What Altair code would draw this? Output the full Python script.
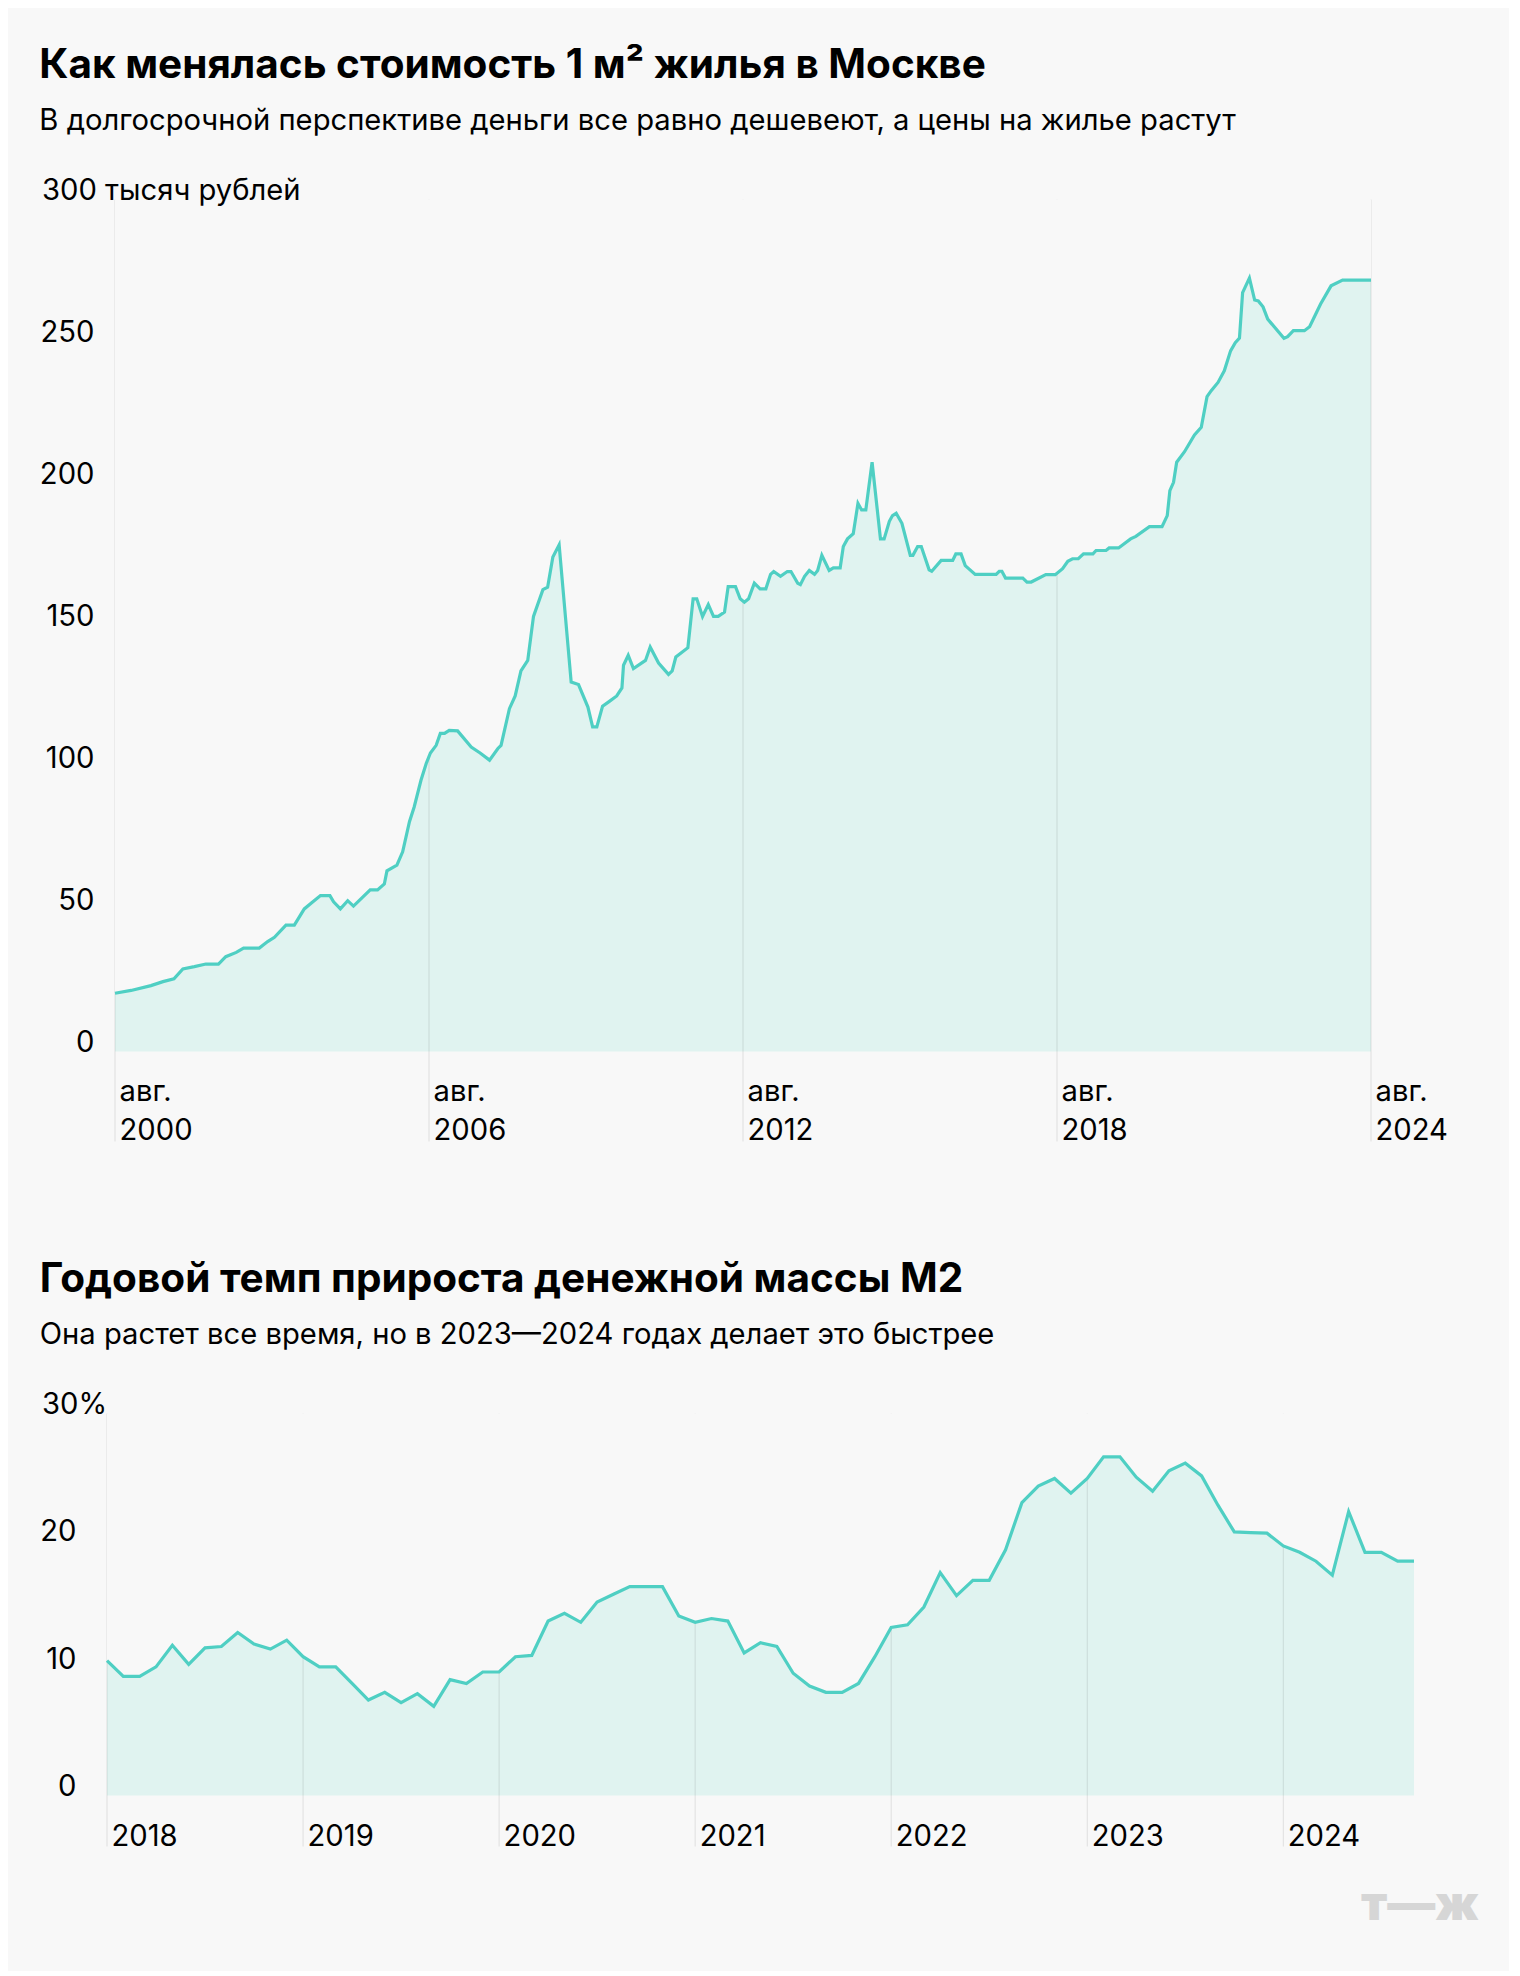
import altair as alt
import pandas as pd

BG = "#f8f8f8"
LINE = "#4fcfc3"
FILL = "#e0f3f0"
FONT = "Inter"
FS = 29.2

# ---- Chart 1: price of 1 m2 in Moscow, thousand rubles (decimal years) ----
price_year = [
    2000.5834, 2000.89, 2001.27, 2001.50, 2001.71, 2001.88, 2002.10, 2002.32, 2002.56, 2002.70,
    2002.90, 2003.04, 2003.34, 2003.50, 2003.63, 2003.85, 2004.01, 2004.20, 2004.33, 2004.51,
    2004.69, 2004.76, 2004.89, 2005.03, 2005.14, 2005.46, 2005.60, 2005.73, 2005.78, 2005.97,
    2006.08, 2006.21, 2006.30, 2006.43, 2006.53, 2006.61, 2006.72, 2006.80, 2006.88, 2006.97,
    2007.13, 2007.39, 2007.56, 2007.74, 2007.90, 2007.96, 2008.12, 2008.23, 2008.34, 2008.47,
    2008.58, 2008.76, 2008.85, 2008.95, 2009.07, 2009.30, 2009.44, 2009.62, 2009.71, 2009.79,
    2009.90, 2010.03, 2010.17, 2010.27, 2010.30, 2010.39, 2010.49, 2010.72, 2010.81, 2010.97,
    2011.16, 2011.23, 2011.30, 2011.53, 2011.63, 2011.70, 2011.81, 2011.92, 2012.02, 2012.11,
    2012.23, 2012.30, 2012.44, 2012.53, 2012.61, 2012.69, 2012.80, 2012.91, 2013.02, 2013.11,
    2013.17, 2013.30, 2013.43, 2013.50, 2013.63, 2013.68, 2013.76, 2013.85, 2013.95, 2014.01,
    2014.09, 2014.23, 2014.31, 2014.44, 2014.50, 2014.58, 2014.69, 2014.78, 2014.85, 2014.93,
    2015.05, 2015.21, 2015.28, 2015.38, 2015.44, 2015.51, 2015.62, 2015.78, 2015.83, 2015.92,
    2015.99, 2016.14, 2016.19, 2016.37, 2016.59, 2016.65, 2016.75, 2016.83, 2017.02, 2017.42,
    2017.48, 2017.53, 2017.60, 2017.93, 2018.01, 2018.09, 2018.37, 2018.55, 2018.69, 2018.79,
    2018.88, 2018.99, 2019.09, 2019.27, 2019.33, 2019.52, 2019.58, 2019.76, 2019.99, 2020.09,
    2020.35, 2020.59, 2020.69, 2020.74, 2020.81, 2020.87, 2021.02, 2021.21, 2021.34, 2021.45,
    2021.53, 2021.66, 2021.78, 2021.90, 2021.99, 2022.07, 2022.13, 2022.26, 2022.36, 2022.43,
    2022.52, 2022.61, 2022.92, 2022.99, 2023.10, 2023.31, 2023.41, 2023.62, 2023.82, 2024.04,
    2024.5833,
]
price_value = [
    20.5, 21.5, 23.2, 24.6, 25.6, 29.1, 29.9, 30.8, 30.8, 33.4,
    34.9, 36.4, 36.4, 38.7, 40.2, 44.5, 44.5, 50.2, 52.2, 54.9,
    54.9, 52.7, 50.2, 53.1, 51.2, 56.9, 56.9, 59.0, 63.6, 65.6,
    70.3, 80.9, 86.1, 95.5, 101.4, 105.1, 107.8, 112.0, 112.0, 113.1,
    112.9, 107.2, 105.1, 102.6, 106.7, 107.8, 120.7, 125.2, 134.0, 137.7,
    153.2, 162.6, 163.5, 174.1, 178.4, 130.1, 129.2, 121.3, 114.3, 114.3,
    121.6, 123.3, 125.2, 128.0, 136.0, 139.5, 134.8, 137.7, 142.4, 136.8,
    132.8, 134.0, 138.9, 142.2, 159.4, 159.4, 153.2, 157.4, 153.2, 153.2,
    154.7, 163.7, 163.7, 159.4, 158.2, 159.4, 164.9, 162.9, 162.9, 168.0,
    169.0, 167.3, 169.0, 169.0, 164.9, 164.4, 167.3, 169.4, 168.0, 169.4,
    174.7, 169.4, 170.3, 170.3, 177.8, 180.5, 182.3, 193.0, 190.7, 190.7,
    207.5, 180.5, 180.5, 186.7, 188.7, 189.5, 186.0, 174.7, 174.7, 177.8,
    177.8, 169.6, 169.1, 172.9, 172.9, 175.2, 175.2, 171.1, 168.0, 168.0,
    169.1, 169.1, 166.7, 166.7, 165.3, 165.3, 167.9, 167.9, 170.0, 172.6,
    173.5, 173.5, 175.2, 175.2, 176.4, 176.4, 177.3, 177.3, 180.5, 181.4,
    184.8, 184.8, 188.7, 197.5, 200.4, 207.5, 211.2, 217.1, 219.8, 230.6,
    232.7, 235.6, 239.7, 246.7, 249.6, 251.2, 267.2, 272.3, 264.6, 264.3,
    262.2, 257.9, 251.1, 251.7, 253.8, 253.8, 255.2, 263.2, 269.6, 271.6,
    271.6,
]
price_ticks = [2000 + 7 / 12, 2006 + 7 / 12, 2012 + 7 / 12, 2018 + 7 / 12, 2024 + 7 / 12]
price_yticks = [0, 50, 100, 150, 200, 250]
price_top_label = "300 тысяч рублей"

# ---- Chart 2: M2 annual growth, %, monthly from Jan 2018 ----
m2_value = [
    10.6, 9.35, 9.35, 10.1, 11.8, 10.3, 11.6, 11.7, 12.8, 11.9,
    11.5, 12.2, 10.9, 10.1, 10.1, 8.8, 7.5, 8.1, 7.3, 8.0,
    7.0, 9.1, 8.8, 9.7, 9.7, 10.9, 11.0, 13.7, 14.3, 13.6,
    15.2, 15.8, 16.4, 16.4, 16.4, 14.1, 13.6, 13.9, 13.7, 11.2,
    12.0, 11.7, 9.6, 8.6, 8.1, 8.1, 8.8, 10.9, 13.2, 13.4,
    14.8, 17.5, 15.7, 16.9, 16.9, 19.3, 23.0, 24.3, 24.9, 23.75,
    24.9, 26.6, 26.6, 25.0, 23.9, 25.5, 26.1, 25.1, 22.8, 20.7,
    20.65, 20.6, 19.6, 19.1, 18.4, 17.3, 22.3, 19.1, 19.1, 18.4,
    18.4,
]
m2_year = [2018 + i / 12 for i in range(len(m2_value))]
m2_ticks = [2018, 2019, 2020, 2021, 2022, 2023, 2024]
m2_yticks = [0, 10, 20]
m2_top_label = "30%"
logo_text = "т—ж"

top_df = pd.DataFrame({"t": price_year, "v": price_value})
bot_df = pd.DataFrame({"t": m2_year, "v": m2_value})

TW, TH = 1256, 852
BW, BH = 1300, 382   # bottom plot shares the left edge; its x range starts 8px further left


def make_panel(df, xdom, ticks, yticks, ydom, top_label, w, h, xrange, xlabel_expr, xpad,
               xoff, ypad, label_dx, tick_len, title, subtitle, line_height=39, extra=None):
    xs = alt.Scale(domain=xdom, range=xrange, nice=False, zero=False)
    ys = alt.Scale(domain=ydom, nice=False, zero=True)
    xaxis = alt.Axis(values=ticks, labelExpr=xlabel_expr, title=None, domain=False,
                     ticks=False, tickSize=0, grid=False, labelAlign="left",
                     labelBaseline="alphabetic", labelPadding=xpad, labelOffset=xoff,
                     labelFlush=False, labelOverlap=False, labelBound=False,
                     labelLineHeight=line_height,
                     labelFont=FONT, labelFontSize=FS, labelColor="#000")
    yaxis = alt.Axis(values=yticks, title=None, domain=False, ticks=False, tickSize=0,
                     grid=False, labelAlign="right", labelBaseline="alphabetic",
                     labelPadding=ypad, labelFont=FONT, labelFontSize=FS, labelColor="#000",
                     labelFlush=False, labelOverlap=False)
    X = alt.X("t:Q", scale=xs, axis=xaxis)
    Y = alt.Y("v:Q", scale=ys, axis=yaxis, stack=None)

    area = alt.Chart(df).mark_area(fill=FILL, fillOpacity=1, strokeWidth=0).encode(
        x=X, y=Y, y2=alt.datum(ydom[0]),
    )
    rules = alt.Chart(pd.DataFrame({"t": ticks})).mark_rule(
        color="#000", opacity=0.1, strokeWidth=1
    ).encode(
        x=X,
        y=alt.value(0),
        y2=alt.value(h + tick_len),
    )
    mask = alt.Chart(df).mark_area(fill=BG, fillOpacity=1, strokeWidth=0).encode(
        x=X, y=Y, y2=alt.datum(ydom[1]),
    )
    line = alt.Chart(df).mark_line(color=LINE, strokeWidth=3.2).encode(x=X, y=Y)
    lab = alt.Chart(pd.DataFrame({"v": [ydom[1]], "label": [top_label]})).mark_text(
        align="left", baseline="alphabetic", font=FONT, fontSize=FS, color="#000"
    ).encode(
        x=alt.value(label_dx),
        y=Y,
        text="label:N",
    )
    layers = [area, rules, mask, line, lab]
    if extra is not None:
        layers.append(extra)
    return alt.layer(*layers).properties(
        width=w, height=h,
        title=alt.TitleParams(
            text=title, subtitle=subtitle, anchor="start", frame="bounds",
            font=FONT, fontSize=40.5, fontWeight=700, color="#000",
            subtitleFont=FONT, subtitleFontSize=FS, subtitleFontWeight=400,
            subtitleColor="#000", subtitlePadding=21, offset=40,
        ),
    )


top = make_panel(
    top_df, [price_ticks[0], price_ticks[-1]], price_ticks, price_yticks, [0, 300],
    price_top_label, TW, TH, [0, TW],
    "['авг.', toString(floor(datum.value))]", 49, 4, 21, -73, 90,
    "Как менялась стоимость 1 м² жилья в Москве",
    "В долгосрочной перспективе деньги все равно дешевеют, а цены на жилье растут",
)

logo = alt.Chart(pd.DataFrame({"logo": [logo_text]})).mark_text(
    align="right", baseline="alphabetic", font=FONT, fontSize=48, fontWeight=900,
    color="#d6d6d6"
).encode(x=alt.value(1364), y=alt.value(506), text="logo:N")

bottom = make_panel(
    bot_df, [m2_year[0], m2_year[-1]], m2_ticks, m2_yticks, [0, 30], m2_top_label,
    BW, BH, [-8, BW - 1],
    "'' + round(datum.value)", 50, 4, 39, -73, 51,
    "Годовой темп прироста денежной массы М2",
    "Она растет все время, но в 2023—2024 годах делает это быстрее",
    extra=logo,
)

chart = alt.vconcat(top, bottom, spacing=113).properties(
    background=BG,
    padding={"left": 31, "top": 37.5, "right": 30, "bottom": 41},
).configure(font=FONT).configure_view(strokeWidth=0, stroke=None)

chart.save("out.html", embed_options={"renderer": "svg", "actions": False})
